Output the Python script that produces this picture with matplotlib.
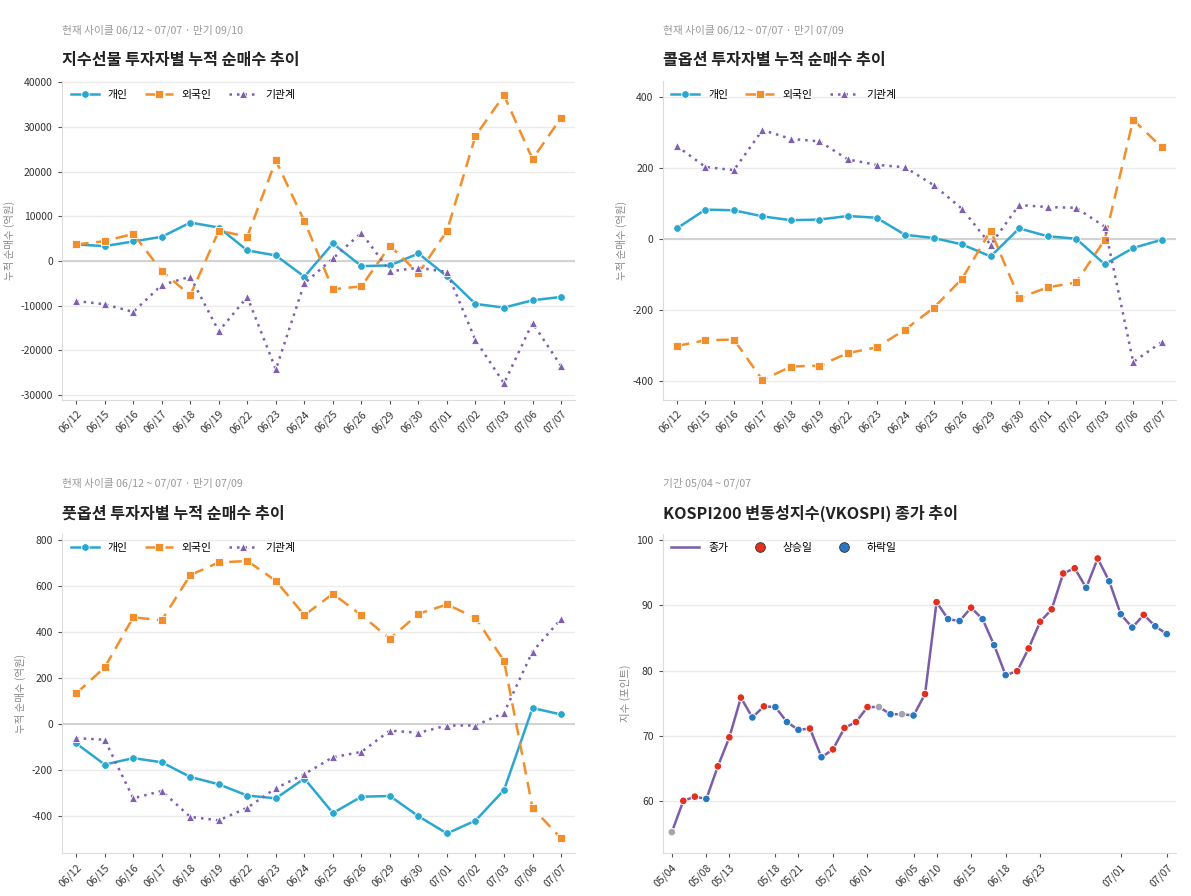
import numpy as np
import matplotlib
matplotlib.use('Agg')
import matplotlib.pyplot as plt
from matplotlib.lines import Line2D
from matplotlib.ticker import MultipleLocator

plt.rcParams['font.family'] = ['Noto Sans CJK KR', 'DejaVu Sans']
plt.rcParams['axes.unicode_minus'] = False

# trading days for the investor-flow panels
days = ['06/12', '06/15', '06/16', '06/17', '06/18', '06/19', '06/22', '06/23', '06/24',
        '06/25', '06/26', '06/29', '06/30', '07/01', '07/02', '07/03', '07/06', '07/07']

# 지수선물 cumulative net buying (억원)
fut_personal = [3720, 3350, 4390, 5430, 8620, 7510, 2380, 1260, -3490, 3940, -1120, -970,
                1710, -3420, -9590, -10410, -8770, -8030]
fut_foreign = [3720, 4460, 6100, -2230, -7660, 6770, 5500, 22530, 8920, -6320, -5650, 3420,
               -2750, 6770, 28030, 37100, 22830, 32040]
fut_inst = [-8920, -9670, -11380, -5350, -3490, -15690, -8030, -24240, -4980, 590, 6320, -2300,
            -1490, -2450, -17700, -27360, -13830, -23490]

# 콜옵션
call_personal = [30, 83, 81, 64, 53, 55, 65, 60, 12, 3, -15, -49, 30, 8, 1, -71, -25, -2]
call_foreign = [-301, -285, -283, -397, -359, -356, -321, -305, -255, -194, -112, 24, -166,
                -136, -122, -2, 336, 258]
call_inst = [262, 203, 194, 307, 282, 275, 224, 209, 202, 152, 85, -16, 96, 90, 88, 35, -346, -290]

# 풋옵션
put_personal = [-84, -176, -148, -166, -230, -262, -311, -323, -237, -387, -316, -313, -401,
                -476, -420, -287, 70, 42]
put_foreign = [134, 247, 465, 452, 649, 704, 710, 624, 474, 567, 474, 372, 480, 521, 463, 275,
               -365, -497]
put_inst = [-61, -68, -323, -291, -404, -419, -364, -279, -218, -144, -121, -28, -38, -6, -6,
            49, 316, 458]

# VKOSPI closes
vk_dates = ['05/04', '05/06', '05/07', '05/08', '05/11', '05/13', '05/14', '05/15', '05/17',
            '05/18', '05/20', '05/21', '05/22', '05/26', '05/27', '05/28', '05/29', '06/01',
            '06/02', '06/03', '06/04', '06/05', '06/09', '06/10', '06/11', '06/12', '06/15',
            '06/16', '06/17', '06/18', '06/19', '06/22', '06/23', '06/24', '06/25', '06/26',
            '06/27', '06/29', '06/30', '07/01', '07/02', '07/03', '07/06', '07/07']
vk_close = [55.2, 60.0, 60.65, 60.3, 65.3, 69.75, 75.85, 72.8, 74.5, 74.4, 72.1, 70.9, 71.1,
            66.7, 67.9, 71.2, 72.1, 74.4, 74.4, 73.3, 73.3, 73.1, 76.4, 90.5, 87.9, 87.6,
            89.65, 87.9, 83.9, 79.3, 79.9, 83.4, 87.5, 89.4, 94.9, 95.7, 92.7, 97.2, 93.7,
            88.65, 86.6, 88.55, 86.8, 85.6]
vk_tick_idx = [0, 3, 5, 9, 11, 14, 17, 21, 23, 26, 29, 32, 39, 43]

C_PERS = '#2aa7cf'
C_FORE = '#f28e2b'
C_INST = '#7f5fb0'


def style_axes(ax):
    for s in ['top', 'right']:
        ax.spines[s].set_visible(False)
    for s in ['left', 'bottom']:
        ax.spines[s].set_color('#dcdcdc')
    ax.yaxis.grid(True, color='#ebebeb', lw=1)
    ax.set_axisbelow(True)
    ax.tick_params(labelsize=7.5, colors='#333333', length=3, width=0.8)
    ax.tick_params(axis='both', color='#555555')


def draw_flow(ax, pers, fore, inst, ylim, step):
    x = np.arange(len(days))
    ax.axhline(0, color='#cfcfcf', lw=1.3, zorder=1)
    ax.plot(x, pers, color=C_PERS, lw=1.8, marker='o', ms=5.5, mec='white', mew=0.6, label='개인')
    ax.plot(x, fore, color=C_FORE, lw=1.8, ls=(0, (5, 3)), marker='s', ms=5.5, mec='white',
            mew=0.6, label='외국인')
    ax.plot(x, inst, color=C_INST, lw=1.8, ls=(0, (1, 2)), marker='^', ms=5.5, mec='white',
            mew=0.6, label='기관계')
    ax.set_xticks(x)
    ax.set_xticklabels(days, rotation=45, ha='right', rotation_mode='anchor')
    ax.set_xlim(-0.5, len(days) - 0.5)
    ax.set_ylim(*ylim)
    ax.yaxis.set_major_locator(MultipleLocator(step))
    ax.set_ylabel('누적 순매수 (억원)', fontsize=7.5, color='#888888')
    style_axes(ax)
    ax.legend(loc='upper left', ncol=3, frameon=False, fontsize=7.8, handlelength=2.6,
              columnspacing=1.6, borderaxespad=0.4)


fig, axes = plt.subplots(2, 2, figsize=(11.91, 8.96), dpi=100)
fig.subplots_adjust(left=0.052, right=0.9874, top=0.9096, bottom=0.048, wspace=0.17, hspace=0.423)

draw_flow(axes[0, 0], fut_personal, fut_foreign, fut_inst, (-31000, 40300), 10000)
draw_flow(axes[0, 1], call_personal, call_foreign, call_inst, (-452, 445), 200)
draw_flow(axes[1, 0], put_personal, put_foreign, put_inst, (-561, 826), 200)

# VKOSPI panel
ax = axes[1, 1]
xv = np.arange(len(vk_close))
ax.plot(xv, vk_close, color='#7b5ea7', lw=1.8, zorder=2)
diff = np.diff(vk_close, prepend=vk_close[0])
cols = np.where(diff > 0, '#e0301e', np.where(diff < 0, '#2878c0', '#a3a7ab'))
ax.scatter(xv, vk_close, c=cols, s=30, edgecolors='white', linewidths=0.7, zorder=3)
ax.set_xticks(vk_tick_idx)
ax.set_xticklabels([vk_dates[i] for i in vk_tick_idx], rotation=45, ha='right',
                   rotation_mode='anchor')
ax.set_xlim(-0.8, len(vk_close) - 0.2)
ax.set_ylim(52.0, 100.9)
ax.yaxis.set_major_locator(MultipleLocator(10))
ax.set_ylabel('지수 (포인트)', fontsize=7.5, color='#888888')
style_axes(ax)
handles = [Line2D([], [], color='#7b5ea7', lw=1.8),
           Line2D([], [], ls='', marker='o', ms=7, mfc='#e0301e', mec='#333333', mew=0.6),
           Line2D([], [], ls='', marker='o', ms=7, mfc='#2878c0', mec='#333333', mew=0.6)]
ax.legend(handles, ['종가', '상승일', '하락일'], loc='upper left', ncol=3, frameon=False,
          fontsize=7.8, handlelength=2.6, columnspacing=1.6, borderaxespad=0.4)

# titles and subtitles
heads = [
    (axes[0, 0], '현재 사이클 06/12 ~ 07/07 · 만기 09/10', '지수선물 투자자별 누적 순매수 추이'),
    (axes[0, 1], '현재 사이클 06/12 ~ 07/07 · 만기 07/09', '콜옵션 투자자별 누적 순매수 추이'),
    (axes[1, 0], '현재 사이클 06/12 ~ 07/07 · 만기 07/09', '풋옵션 투자자별 누적 순매수 추이'),
    (axes[1, 1], '기간 05/04 ~ 07/07', 'KOSPI200 변동성지수(VKOSPI) 종가 추이'),
]
for a, sub, title in heads:
    pos = a.get_position()
    fig.text(pos.x0, pos.y1 + 0.057, sub, fontsize=7.7, color='#999999', va='center', ha='left')
    fig.text(pos.x0, pos.y1 + 0.0235, title, fontsize=11.6, fontweight='bold', color='#222222',
             va='center', ha='left')

fig.savefig('out.png', dpi=100)
